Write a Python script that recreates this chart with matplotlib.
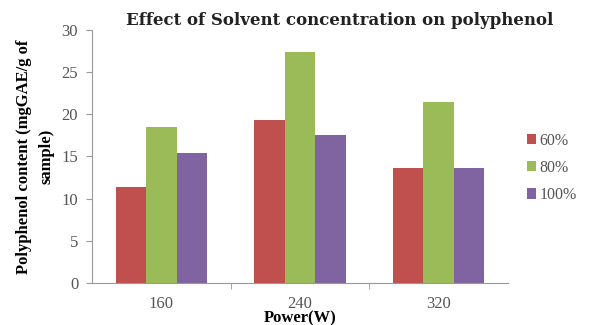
import matplotlib.pyplot as plt
import numpy as np

plt.rcParams['font.family'] = ['Liberation Serif', 'DejaVu Serif']

powers = ['160', '240', '320']
series = ['60%', '80%', '100%']
conc_60 = [11.4, 19.3, 13.6]
conc_80 = [18.5, 27.4, 21.5]
conc_100 = [15.4, 17.5, 13.6]
colors = ['#C0504D', '#9BBB59', '#8064A2']

fig = plt.figure(figsize=(5.9, 3.25), dpi=100)
ax = fig.add_axes([0.156, 0.129, 0.705, 0.779])

x = np.arange(len(powers))
w = 0.22
for i, (vals, lab) in enumerate(zip([conc_60, conc_80, conc_100], series)):
    ax.bar(x + (i - 1) * w, vals, w, color=colors[i], label=lab)

ax.set_xlim(-0.5, 2.5)
ax.set_ylim(0, 30)
ax.set_yticks(range(0, 31, 5))
ax.set_xticks(x)
ax.set_xticklabels(powers)
ax.set_xticks([0.5, 1.5], minor=True)
ax.tick_params(axis='x', which='major', length=0, pad=9)
ax.tick_params(axis='x', which='minor', length=4, color='#999999', direction='out')
ax.tick_params(axis='y', length=4, color='#999999', pad=6)
ax.tick_params(labelsize=12, labelcolor='#555555')

for s in ['top', 'right']:
    ax.spines[s].set_visible(False)
for s in ['left', 'bottom']:
    ax.spines[s].set_color('#999999')

# title is centred on the whole chart area, not on the plot
fig.text(0.575, 0.938, 'Effect of Solvent concentration on polyphenol',
         fontsize=12, fontweight='bold', family='DejaVu Serif',
         ha='center', va='center', color='#222222')
ax.set_xlabel('Power(W)', fontsize=12, fontweight='bold', labelpad=-1)
ax.set_ylabel('Polyphenol content (mgGAE/g of\nsample)', fontsize=12,
              fontweight='bold', labelpad=5, linespacing=1.5)

ax.legend(loc='center left', bbox_to_anchor=(1.01, 0.455), frameon=False,
          fontsize=11.5, handlelength=0.6, handleheight=0.6, handletextpad=0.2,
          labelspacing=0.7, labelcolor='#555555')

fig.savefig('out.png', dpi=100)
